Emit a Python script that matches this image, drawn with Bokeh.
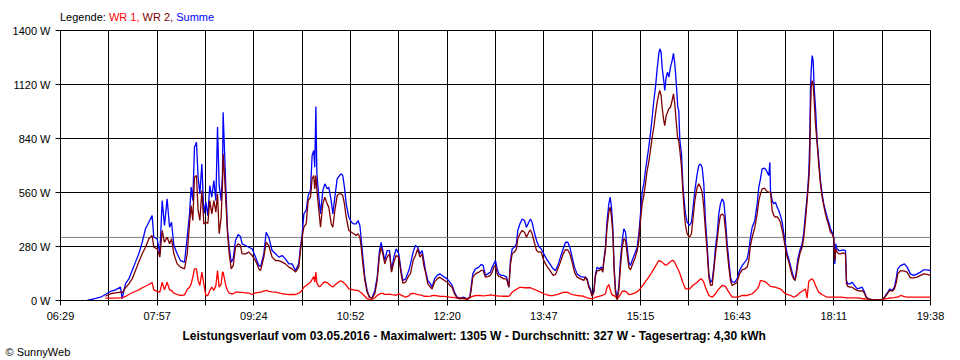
import numpy as np
from bokeh.plotting import figure
from bokeh.layouts import column
from bokeh.models import (Range1d, FixedTicker, CustomJSTickFormatter, PrintfTickFormatter,
                          Span, Title, Div, ColumnDataSource)
from bokeh.embed import file_html
from bokeh.resources import INLINE

nan = float("nan")

# time in minutes after midnight
zeit = [
    413.2, 419.2, 425.3, 429.8, 434.3, 438.9, 443.4, 444.9, 447.9, 451.0,
    454.0, 457.0, 460.0, 463.1, 466.1, 469.1, 472.1, 473.6, 476.7, 479.1,
    481.2, 483.3, 485.7, 487.9, 489.7, 491.8, 494.8, 497.8, 501.5, 503.9,
    506.0, 507.5, 509.0, 510.5, 512.3, 513.8, 515.4, 517.2, 519.0, 520.8,
    522.6, 524.4, 526.2, 528.1, 529.9, 531.4, 532.9, 534.7, 535.9, 536.5,
    537.7, 538.9, 540.5, 542.0, 543.8, 545.6,
    547.7, 550.1, 552.2, 553.7, 556.8, 559.8, 562.8, 565.8, 568.9, 570.4,
    573.4, 575.5, 577.9, 580.9, 584.0, 587.0, 590.0, 593.0, 596.1, 599.1,
    602.1, 605.1, 606.6, 608.2, 609.7, 611.8, 613.6, 615.7, 617.2, 618.7,
    619.6, 620.6, 621.5, 623.3, 624.8, 626.9, 628.7, 630.8, 632.3, 634.5,
    636.0, 637.8, 639.9, 642.0, 643.8, 645.0, 646.5, 648.1, 650.5, 652.9,
    655.0, 657.1, 658.9, 660.5, 661.7, 663.2, 665.0, 667.1, 669.2, 671.6,
    674.1, 676.2, 678.3, 679.8, 681.3, 683.1, 685.2, 687.4, 689.2, 691.3,
    693.4, 695.8, 697.9, 699.5, 701.9, 704.9,
    706.4, 708.8, 710.9, 713.0, 714.9, 717.0, 718.5, 720.0, 722.1, 724.5,
    726.0, 728.2, 730.6, 733.0, 735.1, 737.2, 739.7, 742.1, 744.2, 746.3,
    748.7, 751.7, 754.8, 757.8, 760.2, 761.4, 762.9, 765.3, 768.4, 770.5,
    772.3, 774.4, 776.5, 778.9, 780.5, 782.0, 783.5, 785.0, 786.5, 788.6,
    791.0, 793.5, 795.6, 797.1, 798.6, 800.7, 802.5, 803.7, 805.6, 807.7,
    809.8, 811.6, 813.7, 815.2, 816.7, 818.3, 820.7, 822.8, 824.9, 827.3,
    829.7, 832.8, 835.8, 837.9, 840.0, 842.4, 844.9, 847.0, 849.1, 850.9,
    853.0, 855.1, 857.5, 860.6, 863.6,
    865.1, 866.6, 868.1, 869.6, 871.1, 872.7, 874.2, 875.7, 877.2, 879.6,
    880.8, 881.7, 883.2, 884.7, 886.3, 887.5, 888.7, 889.9, 891.1, 892.3,
    893.8, 895.3, 896.8, 898.4, 899.9, 901.4, 902.9, 904.4, 905.9, 907.4,
    909.8, 912.0, 913.5, 915.0, 916.5, 918.0, 919.5, 921.0, 922.5, 924.0,
    925.6, 927.1, 928.6, 930.1, 931.6, 932.5, 933.7, 934.6, 936.1, 937.0,
    938.3, 939.5, 940.7, 942.2, 943.7, 944.9, 946.1, 947.3, 948.8, 949.7,
    950.7, 952.2, 953.4, 954.6, 955.8, 957.3, 959.4, 961.2, 962.4, 964.3,
    966.4, 967.9, 969.4, 970.9, 972.4, 973.9, 975.4, 977.0, 978.5, 980.0,
    981.5, 983.0, 984.5, 986.0, 987.5, 989.0, 990.6, 992.1, 993.6, 995.1,
    996.6, 998.1, 1000.5, 1002.6, 1004.8, 1007.2, 1009.6, 1011.7, 1013.2, 1014.7,
    1016.3, 1018.7, 1020.8, 1022.3,
    1023.8, 1025.3, 1027.4, 1029.2, 1030.5, 1031.4, 1032.3, 1032.9, 1034.4, 1035.9,
    1037.4, 1038.9, 1040.4, 1041.9, 1043.5, 1045.0, 1046.5, 1048.0, 1049.5, 1051.0,
    1052.5, 1054.0, 1055.2, 1056.4, 1057.7, 1059.5, 1061.6, 1063.1, 1064.6, 1066.1,
    1067.6, 1068.5, 1069.1, 1069.8, 1070.7, 1071.6, 1072.5, 1073.7, 1075.2, 1076.7,
    1078.2, 1079.7, 1081.2, 1082.7, 1084.3, 1085.8, 1087.3, 1088.8, 1090.3, 1091.2,
    1092.1, 1093.3, 1094.8, 1096.4, 1098.8, 1100.9, 1101.8, 1103.0, 1104.8, 1106.9,
    1109.0, 1111.5, 1114.5, 1116.0, 1117.5, 1119.9, 1122.0, 1125.1, 1129.6, 1134.1,
    1135.7, 1137.2, 1139.3, 1141.1, 1143.2, 1145.3, 1147.1, 1148.3, 1150.8, 1154.4,
    1156.8, 1159.8, 1162.9, 1165.9, 1168.9, 1171.9, 1175.0, 1178.0,
]

# WR 1 (W)
wr1 = [
    nan, nan, nan, 12, 12, 12, 14, 14, 21, 31,
    40, 48, 55, 66, 74, 83, 93, 55, 47, 43,
    95, 55, 95, 55, 52, 38, 31, 26, 29, 57,
    69, 86, 121, 164, 164, 104, 78, 147, 86, 26,
    26, 52, 69, 52, 78, 155, 69, 86, 147, 147,
    112, 78, 52, 38, 35, 35,
    43, 43, 42, 42, 40, 38, 31, 40, 42, 43,
    48, 52, 47, 45, 43, 40, 35, 33, 31, 31,
    31, 38, 43, 55, 69, 78, 86, 95, 110, 124,
    95, 147, 90, 72, 75, 90, 97, 93, 86, 75,
    70, 80, 90, 100, 100, 97, 88, 80, 60, 57,
    55, 53, 52, 45, 40, 32, 22, 9, 7, 5,
    14, 26, 33, 37, 37, 32, 32, 33, 31, 29,
    27, 35, 28, 24, 17, 24,
    35, 37, 34, 31, 29, 26, 22, 22, 21, 23,
    25, 26, 24, 22, 21, 21, 19, 17, 16, 15,
    14, 12, 9, 11, 14, 18, 22, 25, 26, 25,
    24, 25, 27, 29, 28, 26, 25, 24, 23, 23,
    22, 22, 21, 32, 43, 52, 58, 62, 68, 68,
    66, 66, 66, 66, 62, 59, 53, 47, 42, 35,
    30, 25, 26, 29, 32, 37, 42, 43, 42, 36,
    31, 29, 26, 24, 22,
    17, 14, 12, 10, 9, 13, 17, 19, 21, 25,
    27, 30, 35, 69, 83, 58, 35, 26, 26, 20,
    9, 17, 32, 48, 48, 48, 40, 31, 32, 34,
    38, 46, 52, 63, 75, 86, 98, 110, 121, 135,
    150, 164, 178, 193, 207, 205, 202, 199, 190, 186,
    183, 188, 194, 201, 208, 207, 196, 183, 165, 155,
    140, 114, 94, 76, 60, 60, 60, 70, 78, 86,
    95, 104, 112, 108, 95, 69, 48, 26, 21, 17,
    26, 35, 48, 60, 69, 78, 76, 73, 58, 43,
    30, 17, 17, 17, 21, 26, 26, 26, 29, 32,
    35, 47, 60, 73,
    104, 102, 99, 92, 86, 81, 76, 73, 72, 70,
    69, 66, 63, 60, 52, 43, 35, 32, 29, 26,
    22, 17, 21, 24, 30, 40, 48, 54, 60, 12,
    100, 104, 107, 110, 112, 106, 98, 78, 60, 43,
    37, 31, 26, 21, 17, 17, 17, 17, 17, 17,
    17, 17, 17, 17, 16, 15, 14, 14, 14, 14,
    14, 14, 12, 10, 9, 7, 6, 5, 3, 5,
    7, 9, 11, 13, 14, 15, 17, 17, 26, 20,
    17, 17, 17, 17, 17, 17, 17, 17,
]

# WR 2 (W)
wr2 = [
    nan, nan, nan, 22, 35, 40, 43, 40, 66, 86,
    112, 155, 199, 242, 276, 320, 337, 276, 268, 225,
    363, 302, 328, 294, 320, 242, 190, 173, 164, 242,
    397, 492, 415, 639, 648, 467, 415, 570, 397, 406,
    400, 518, 449, 518, 458, 553, 346, 432, 605, 760,
    657, 518, 346, 242, 164, 181,
    276, 294, 285, 242, 242, 251, 233, 207, 164, 155,
    225, 302, 285, 225, 207, 207, 199, 190, 173, 164,
    147, 173, 259, 328, 380, 397, 518, 536, 631, 648,
    579, 648, 570, 467, 380, 501, 536, 501, 484, 397,
    380, 467, 544, 553, 553, 544, 501, 432, 363, 354,
    346, 337, 346, 328, 276, 190, 104, 43, 17, 12,
    35, 104, 233, 276, 242, 190, 225, 242, 147, 199,
    233, 225, 138, 90, 95, 130,
    138, 207, 233, 268, 225, 242, 181, 147, 86, 69,
    60, 95, 112, 121, 112, 104, 95, 78, 69, 35,
    12, 9, 12, 5, 14, 52, 121, 138, 147, 156,
    156, 121, 124, 130, 147, 173, 181, 138, 124, 121,
    112, 112, 69, 190, 242, 251, 268, 320, 346, 363,
    354, 328, 354, 366, 346, 311, 259, 251, 251, 207,
    181, 156, 130, 135, 164, 199, 242, 264, 262, 242,
    199, 147, 121, 112, 104,
    121, 104, 69, 52, 21, 43, 130, 155, 155, 164,
    147, 199, 259, 380, 458, 484, 432, 346, 155, 43,
    3, 52, 173, 276, 320, 311, 242, 173, 159, 181,
    216, 259, 311, 415, 501, 544, 605, 674, 717, 778,
    847, 899, 968, 1028, 1071, 1089, 1063, 1002, 933, 907,
    959, 976, 994, 1002, 1037, 1071, 1020, 933, 838, 829,
    778, 691, 570, 467, 389, 346, 328, 346, 415, 518,
    588, 605, 588, 562, 484, 363, 259, 121, 78, 78,
    155, 242, 311, 389, 441, 449, 441, 363, 259, 173,
    104, 78, 86, 95, 138, 159, 164, 173, 207, 285,
    328, 380, 449, 518,
    553, 579, 583, 570, 562, 562, 562, 562, 467, 441,
    432, 435, 423, 406, 363, 320, 268, 225, 199, 164,
    130, 112, 104, 138, 190, 242, 276, 328, 415, 518,
    622, 726, 968, 1106, 1140, 1123, 1037, 916, 812, 700,
    605, 536, 492, 449, 415, 389, 354, 346, 320, 207,
    268, 250, 242, 242, 247, 242, 86, 73, 69, 69,
    60, 52, 48, 52, 43, 14, 7, 5, 5, 5,
    14, 21, 38, 52, 48, 60, 95, 138, 155, 152,
    147, 117, 117, 121, 130, 138, 135, 130,
]

# Summe (W)
summe = [
    0, 9, 17, 31, 47, 55, 69, 10, 86, 112,
    155, 199, 242, 302, 372, 406, 440, 328, 320, 242,
    518, 389, 527, 380, 406, 285, 242, 207, 199, 328,
    449, 588, 518, 795, 821, 639, 553, 708, 449, 510,
    440, 596, 536, 622, 518, 899, 596, 518, 657, 976,
    786, 588, 363, 276, 199, 216,
    311, 342, 332, 294, 285, 276, 268, 225, 181, 176,
    242, 354, 328, 259, 242, 225, 233, 216, 190, 190,
    155, 190, 276, 346, 449, 467, 544, 570, 752, 778,
    691, 1006, 657, 536, 449, 570, 605, 579, 588, 518,
    449, 536, 631, 648, 657, 648, 588, 501, 432, 406,
    397, 397, 415, 389, 320, 225, 121, 52, 17, 14,
    52, 121, 259, 302, 259, 207, 259, 259, 155, 225,
    268, 242, 155, 104, 112, 155,
    190, 251, 285, 276, 242, 259, 207, 156, 104, 86,
    69, 112, 130, 138, 130, 121, 112, 95, 78, 43,
    17, 14, 17, 9, 17, 69, 138, 164, 173, 187,
    181, 130, 138, 147, 173, 190, 207, 164, 138, 130,
    130, 121, 69, 207, 268, 276, 294, 363, 397, 423,
    415, 380, 406, 423, 406, 363, 311, 280, 268, 242,
    216, 190, 164, 156, 181, 225, 268, 302, 302, 276,
    225, 173, 138, 124, 121,
    121, 112, 78, 60, 26, 52, 138, 173, 164, 173,
    155, 207, 276, 415, 501, 536, 484, 380, 173, 60,
    9, 69, 207, 311, 372, 354, 276, 199, 181, 207,
    242, 276, 346, 449, 562, 605, 674, 734, 795, 864,
    950, 1037, 1106, 1201, 1279, 1305, 1287, 1210, 1140, 1089,
    1158, 1184, 1158, 1210, 1244, 1282, 1227, 1140, 1002, 985,
    829, 760, 605, 518, 449, 406, 389, 406, 467, 570,
    657, 700, 708, 691, 605, 415, 294, 138, 95, 104,
    173, 276, 346, 449, 501, 527, 510, 415, 294, 207,
    121, 95, 95, 112, 155, 181, 199, 216, 259, 328,
    380, 415, 501, 588,
    631, 683, 686, 674, 657, 648, 717, 570, 518, 501,
    510, 484, 467, 441, 406, 346, 294, 242, 216, 181,
    147, 121, 104, 155, 216, 259, 294, 354, 449, 536,
    657, 829, 1089, 1192, 1270, 1244, 1106, 1002, 829, 726,
    622, 553, 501, 467, 432, 406, 372, 354, 328, 190,
    294, 268, 259, 259, 262, 259, 104, 86, 86, 95,
    78, 60, 66, 69, 52, 17, 9, 5, 5, 5,
    9, 26, 43, 60, 52, 69, 121, 164, 181, 190,
    173, 138, 130, 138, 147, 159, 159, 155,
]

x_labels = ["06:29", "07:57", "09:24", "10:52", "12:20", "13:47", "15:15", "16:43", "18:11", "19:38"]
start_min, end_min = 389, 1178   # 06:29 .. 19:38
y_ticks = [0, 280, 560, 840, 1120, 1400]
durchschnitt = 327
title_text = "Leistungsverlauf vom 03.05.2016 - Maximalwert: 1305 W - Durchschnitt: 327 W - Tagesertrag: 4,30 kWh"
legend_parts = ["Legende:", "WR 1,", "WR 2,", "Summe"]
legend_colors = ["#000000", "#FF0000", "#800000", "#0000FF"]

FONT = "Liberation Sans"
DIV_H = 24

spans = " ".join('<span style="color:%s">%s</span>' % (c, t) for t, c in zip(legend_parts, legend_colors))
legend_div = Div(
    text=('<div style="padding:11px 0 0 60px; font-family:\'Liberation Sans\'; font-size:11px; '
          'line-height:13px; white-space:nowrap; margin:0">%s</div>' % spans),
    width=960, height=DIV_H, margin=0)

src = ColumnDataSource(dict(zeit=np.array(zeit, dtype=float), wr1=np.array(wr1, dtype=float),
                            wr2=np.array(wr2, dtype=float), summe=np.array(summe, dtype=float)))

p = figure(width=960, height=360 - DIV_H, output_backend="svg", toolbar_location=None,
           x_range=Range1d(start_min, end_min), y_range=Range1d(y_ticks[0], y_ticks[-1]),
           min_border_left=60, min_border_right=30, min_border_top=30 - DIV_H, min_border_bottom=60)
p.background_fill_color = "white"
p.border_fill_color = "white"
p.outline_line_color = "black"
p.outline_line_width = 1
p.margin = 0

x_ticks = list(np.linspace(start_min, end_min, 2 * len(x_labels) - 1))
p.xaxis.ticker = FixedTicker(ticks=x_ticks)
p.xaxis.formatter = CustomJSTickFormatter(args=dict(labels=x_labels),
                                          code="return (index % 2 == 0) ? labels[index / 2] : '';")
p.yaxis.ticker = FixedTicker(ticks=y_ticks)
p.yaxis.formatter = PrintfTickFormatter(format="%d W")

for ax in (p.xaxis[0], p.yaxis[0]):
    ax.axis_line_color = "black"
    ax.major_tick_line_color = "black"
    ax.major_tick_in = 0
    ax.major_tick_out = 5
    ax.minor_tick_line_color = None
    ax.major_label_text_font = FONT
    ax.major_label_text_font_size = "11px"
    ax.major_label_text_color = "black"
p.xaxis.major_label_standoff = 4
p.yaxis.major_label_standoff = 5

for g in (p.xgrid[0], p.ygrid[0]):
    g.grid_line_color = "black"
    g.grid_line_alpha = 1.0
    g.grid_line_width = 1

p.add_layout(Span(location=durchschnitt, dimension="width", line_color="#808080",
                  line_width=1, level="underlay"))

p.line("zeit", "summe", source=src, line_color="#0000FF", line_width=1.3)
p.line("zeit", "wr1", source=src, line_color="#FF0000", line_width=1.3)
p.line("zeit", "wr2", source=src, line_color="#800000", line_width=1.3)

p.add_layout(Title(text=title_text, align="left", offset=122, standoff=4,
                   text_font=FONT, text_font_size="12px", text_font_style="bold",
                   text_color="black"), "below")
p.add_layout(Title(text="© SunnyWeb", align="left", offset=-55, standoff=-2,
                   text_font=FONT, text_font_size="11px", text_font_style="normal",
                   text_color="black"), "below")

open("out.html", "w").write(file_html(column(legend_div, p, spacing=0), INLINE))
